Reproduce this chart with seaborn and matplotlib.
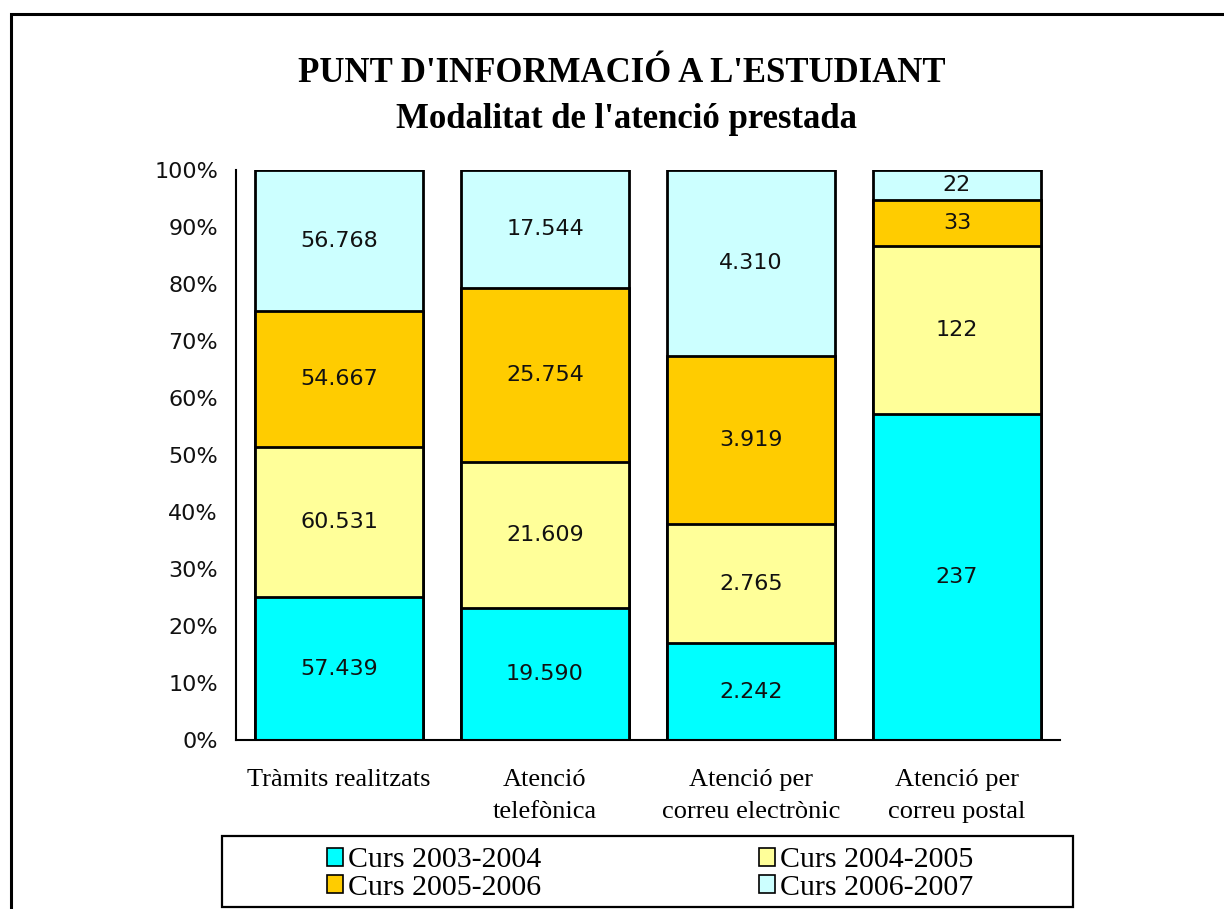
import numpy as np
import pandas as pd
import matplotlib
matplotlib.use("Agg")
import matplotlib.pyplot as plt
import seaborn as sns
from matplotlib.patches import Rectangle, Patch

categories = ["Tràmits realitzats", "Atenció\ntelefònica",
              "Atenció per\ncorreu electrònic", "Atenció per\ncorreu postal"]
series_names = ["Curs 2003-2004", "Curs 2004-2005", "Curs 2005-2006", "Curs 2006-2007"]
curs_2003_2004 = [57439, 19590, 2242, 237]
curs_2004_2005 = [60531, 21609, 2765, 122]
curs_2005_2006 = [54667, 25754, 3919, 33]
curs_2006_2007 = [56768, 17544, 4310, 22]
colors = ["#00FFFF", "#FFFF99", "#FFCC00", "#CCFFFF"]
yticks = [0, 10, 20, 30, 40, 50, 60, 70, 80, 90, 100]

sns.set_theme(style="white")
plt.rcParams["font.family"] = ["DejaVu Sans"]
plt.rcParams["text.color"] = "black"
plt.rcParams["xtick.color"] = "black"
plt.rcParams["ytick.color"] = "black"

vals = np.array([curs_2003_2004, curs_2004_2005, curs_2005_2006, curs_2006_2007], dtype=float)
totals = vals.sum(axis=0)
pct = vals / totals * 100
cum = np.cumsum(pct, axis=0)

fig = plt.figure(figsize=(12.24, 9.09), dpi=100)
ax = fig.add_axes([236/1224, 1-740/909, (1060-236)/1224, (740-170)/909])

for i in range(3, -1, -1):
    df = pd.DataFrame({"cat": categories, "val": cum[i]})
    sns.barplot(data=df, x="cat", y="val", ax=ax, color=colors[i], width=0.82,
                edgecolor="black", linewidth=2, saturation=1, errorbar=None)

ax.set_xlim(-0.5, 3.5)
ax.set_ylim(0, 100)
ax.set_yticks(yticks)
ax.set_yticklabels([f"{t}%" for t in yticks], fontsize=16, color="#111111")
ax.tick_params(axis="y", length=0, pad=13)
ax.tick_params(axis="x", length=0, pad=21)
ax.set_xticks(range(4))
ax.set_xticklabels(categories, fontsize=19, family="Liberation Serif", linespacing=1.6,
                   color="black")
ax.set_xlabel("")
ax.set_ylabel("")
for s in ["top", "right"]:
    ax.spines[s].set_visible(False)
for s in ["left", "bottom"]:
    ax.spines[s].set_color("black")
    ax.spines[s].set_linewidth(1.5)

# value labels
for i in range(4):
    for j in range(4):
        lower = cum[i-1, j] if i > 0 else 0
        yc = (lower + cum[i, j]) / 2
        ax.text(j, yc, f"{int(vals[i, j]):,}".replace(",", "."), ha="center", va="center",
                fontsize=16, color="#111111")

fig.text(622/1224, 1-74/909, "PUNT D'INFORMACIÓ A L'ESTUDIANT", ha="center", va="center",
         fontsize=25, fontweight="bold", family="Liberation Serif", color="black")
fig.text(626/1224, 1-119/909, "Modalitat de l'atenció prestada", ha="center", va="center",
         fontsize=25, fontweight="bold", family="Liberation Serif", color="black")

# outer border
fig.patches.append(Rectangle((11/1224, -0.1), 1.2, 1-14/909+0.1, transform=fig.transFigure,
                             fill=False, edgecolor="black", linewidth=2.2))
# legend box
fig.patches.append(Rectangle((222/1224, 1-907/909), (1073-222)/1224, (907-836)/909,
                             transform=fig.transFigure, fill=False, edgecolor="black", linewidth=1.6))

order = [0, 2, 1, 3]
handles = [Patch(facecolor=colors[k], edgecolor="black", linewidth=1.2) for k in order]
labels = [series_names[k] for k in order]
leg = fig.legend(handles, labels, ncol=2, loc="center", bbox_to_anchor=(650/1224, 1-874/909),
                 frameon=False, prop={"family": "Liberation Serif", "size": 21.5},
                 handlelength=0.55, handleheight=0.55, handletextpad=0.15, labelspacing=0.05,
                 columnspacing=7.3, borderpad=0)

fig.savefig("out.png", dpi=100)
